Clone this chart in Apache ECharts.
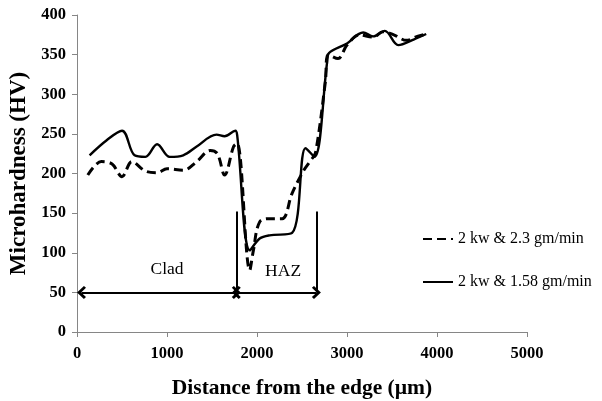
<!DOCTYPE html>
<html>
<head>
  <meta charset="utf-8" />
  <title>Microhardness</title>
  <script src="https://cdn.jsdelivr.net/npm/echarts@6/dist/echarts.min.js"></script>
  <style>
    body { margin: 0; background: #fff; }
    #main { width: 602px; height: 401px; }
  </style>
</head>
<body>
  <div id="main"></div>
  <script>
    // 2 kw & 2.3 gm/min (dashed)
    var distA = [120, 270, 390, 500, 610, 760, 890, 1000, 1180, 1330, 1480, 1560, 1640, 1740, 1780, 1920, 1960, 2030, 2150, 2280, 2390, 2520, 2600, 2650, 2760, 2790, 2900, 3000, 3140, 3290, 3400, 3520, 3660, 3780, 3880];
    var hvA = [198, 215, 212, 196, 215, 203, 201, 206, 204, 215, 229, 225, 198, 234, 238, 78, 103, 139, 143, 143, 175, 204, 217, 226, 316, 350, 345, 362, 375, 372, 379, 375, 368, 373, 376];
    // 2 kw & 1.58 gm/min (solid)
    var distB = [140, 330, 500, 640, 760, 890, 1030, 1180, 1330, 1550, 1640, 1760, 1780, 1920, 2030, 2140, 2390, 2540, 2640, 2780, 2800, 3000, 3180, 3290, 3420, 3570, 3740, 3880];
    var hvB = [223, 242, 254, 223, 221, 237, 221, 223, 234, 249, 247, 254, 248, 103, 118, 122, 125, 232, 221, 341, 352, 364, 378, 373, 380, 362, 369, 376];
    var seriesNames = ['2 kw & 2.3 gm/min', '2 kw & 1.58 gm/min'];

    // zone annotation
    var cladStart = 50, cladEnd = 1770, hazEnd = 2660;
    var arrowHv = 50, barTop = 152;

    function pairs(xs, ys) {
      return xs.map(function (x, i) { return [x, ys[i]]; });
    }

    var serif = 'Liberation Serif';
    var chevron = 'path://M0,10 L10,0 L20,10 L17,13 L10,6 L3,13 Z';

    var chart = echarts.init(document.getElementById('main'));
    chart.setOption({
      animation: false,
      grid: { left: 77, right: 75, top: 15, bottom: 69, outerBoundsMode: 'none', containLabel: false },
      legend: {
        orient: 'vertical',
        left: 417,
        top: 226,
        itemWidth: 30,
        itemHeight: 14,
        itemGap: 27,
        itemStyle: { opacity: 0 },
        textStyle: { fontFamily: serif, fontSize: 16, color: '#000' },
        data: seriesNames
      },
      xAxis: {
        type: 'value',
        min: 0, max: 5000, interval: 1000,
        name: 'Distance from the edge (µm)',
        nameLocation: 'middle',
        nameGap: 45,
        nameTextStyle: { fontFamily: serif, fontSize: 21.5, fontWeight: 'bold', color: '#000' },
        axisLine: { lineStyle: { color: '#868686' } },
        axisTick: { length: 5, lineStyle: { color: '#868686' } },
        axisLabel: {
          fontFamily: serif, fontSize: 16.5, fontWeight: 'bold', color: '#000', margin: 13,
          formatter: function (v) { return String(v); }
        },
        splitLine: { show: false }
      },
      yAxis: {
        type: 'value',
        min: 0, max: 400, interval: 50,
        name: 'Microhardness (HV)',
        nameLocation: 'middle',
        nameGap: 46,
        nameTextStyle: { fontFamily: serif, fontSize: 23, fontWeight: 'bold', color: '#000' },
        axisLine: { show: true, lineStyle: { color: '#868686' } },
        axisTick: { show: true, length: 5, lineStyle: { color: '#868686' } },
        axisLabel: { fontFamily: serif, fontSize: 16.5, fontWeight: 'bold', color: '#000', margin: 11 },
        splitLine: { show: false }
      },
      series: [{
        name: seriesNames[0],
        type: 'line',
        smooth: 0.35,
        symbol: 'none',
        lineStyle: { color: '#000', width: 3, type: [9, 5] },
        itemStyle: { color: '#000' },
        data: pairs(distA, hvA),
        z: 3
      }, {
        name: seriesNames[1],
        type: 'line',
        smooth: 0.35,
        symbol: 'none',
        lineStyle: { color: '#000', width: 2.4 },
        itemStyle: { color: '#000' },
        data: pairs(distB, hvB),
        markLine: {
          silent: true,
          symbol: 'none',
          lineStyle: { color: '#000', width: 2, type: 'solid' },
          label: { show: false },
          data: [
            [{ coord: [cladEnd, barTop] }, { coord: [cladEnd, arrowHv] }],
            [{ coord: [hazEnd, barTop] }, { coord: [hazEnd, arrowHv] }],
            [{ coord: [cladStart, arrowHv], symbol: chevron, symbolSize: [13, 9] },
             { coord: [cladEnd, arrowHv], symbol: chevron, symbolSize: [13, 9] }],
            [{ coord: [cladEnd, arrowHv], symbol: chevron, symbolSize: [13, 9] },
             { coord: [hazEnd, arrowHv], symbol: chevron, symbolSize: [13, 9] }]
          ]
        },
        markPoint: {
          silent: true,
          symbol: 'circle',
          symbolSize: 0,
          label: {
            show: true,
            formatter: '{b}',
            fontFamily: serif,
            fontSize: 17.5,
            color: '#000'
          },
          data: [
            { name: 'Clad', coord: [1000, 79] },
            { name: 'HAZ', coord: [2290, 76] }
          ]
        }
      }]
    });
  </script>
</body>
</html>
